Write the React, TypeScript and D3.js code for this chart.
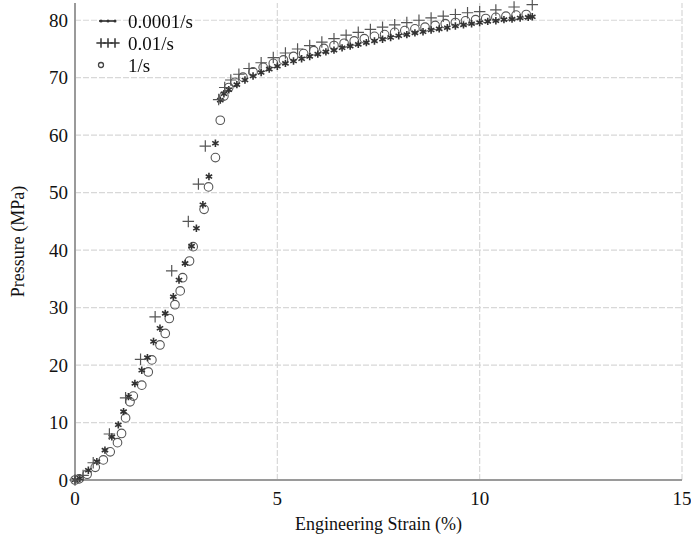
import React, { useEffect, useRef } from 'react';
import * as d3 from 'd3';

// strain (%) / pressure (MPa)
const slowStrain = [0, 0.12, 0.33, 0.54, 0.74, 0.91, 1.07, 1.2, 1.32, 1.48, 1.65, 1.79, 1.94, 2.1, 2.23, 2.43, 2.57, 2.72, 2.88, 3.0, 3.16, 3.31, 3.47, 3.59, 3.68,
  3.8, 4.0, 4.2, 4.4, 4.6, 4.8, 5.0, 5.2, 5.4, 5.6, 5.8, 6.0, 6.2, 6.4, 6.6, 6.8, 7.0, 7.2, 7.4, 7.6, 7.8, 8.0, 8.2, 8.4, 8.6, 8.8, 9.0, 9.2, 9.4, 9.6, 9.8, 10.0, 10.2, 10.4, 10.6, 10.8, 11.0, 11.2, 11.3];
const slowPressure = [0, 0.3, 1.7, 3.2, 5.2, 7.5, 9.6, 11.9, 14.5, 16.8, 19.1, 21.3, 24.1, 26.4, 29.0, 31.9, 34.8, 37.7, 40.7, 43.8, 47.9, 52.8, 58.6, 66.1, 67.2,
  67.9, 68.8, 69.6, 70.3, 70.9, 71.5, 72.0, 72.5, 72.9, 73.3, 73.7, 74.1, 74.5, 74.8, 75.2, 75.5, 75.8, 76.1, 76.4, 76.7, 77.0, 77.3, 77.5, 77.8, 78.0, 78.3, 78.5, 78.7, 79.0, 79.2, 79.4, 79.6, 79.8, 79.9, 80.1, 80.2, 80.4, 80.5, 80.6];

const midStrain = [0, 0.2, 0.45, 0.85, 1.25, 1.62, 1.98, 2.39, 2.8, 3.05, 3.22, 3.55, 3.7, 3.85, 4.05, 4.3, 4.6, 4.9, 5.2, 5.5, 5.8, 6.1, 6.4, 6.7, 7.0, 7.3, 7.6, 7.9, 8.2, 8.5, 8.8, 9.1, 9.4, 9.7, 10.0, 10.4, 10.85, 11.3];
const midPressure = [0, 0.8, 3.0, 8.0, 14.3, 21.0, 28.4, 36.4, 45.0, 51.5, 58.1, 66.2, 68.3, 69.6, 70.6, 71.6, 72.6, 73.5, 74.3, 75.0, 75.6, 76.2, 76.8, 77.4, 77.9, 78.4, 78.8, 79.2, 79.6, 80.0, 80.4, 80.7, 81.0, 81.3, 81.5, 81.8, 82.3, 82.7];

const fastStrain = [0, 0.1, 0.3, 0.5, 0.7, 0.87, 1.05, 1.15, 1.25, 1.36, 1.44, 1.65, 1.81, 1.9, 2.1, 2.23, 2.33, 2.47, 2.6, 2.66, 2.83, 2.92, 3.19, 3.3, 3.47, 3.59,
  3.68, 3.8, 3.95, 4.15, 4.4, 4.65, 4.9, 5.15, 5.4, 5.65, 5.9, 6.15, 6.4, 6.65, 6.9, 7.15, 7.4, 7.65, 7.9, 8.15, 8.4, 8.65, 8.9, 9.15, 9.4, 9.65, 9.9, 10.15, 10.4, 10.65, 10.9, 11.15];
const fastPressure = [0, 0.2, 1.0, 2.2, 3.5, 4.9, 6.5, 8.1, 10.8, 13.6, 14.6, 16.5, 18.8, 20.9, 23.5, 25.5, 28.1, 30.5, 32.9, 35.2, 38.1, 40.6, 47.1, 51.0, 56.1, 62.6,
  66.8, 68.3, 69.2, 70.1, 71.0, 71.8, 72.5, 73.1, 73.7, 74.2, 74.7, 75.1, 75.6, 76.0, 76.4, 76.8, 77.2, 77.5, 77.9, 78.2, 78.5, 78.8, 79.1, 79.4, 79.6, 79.9, 80.1, 80.3, 80.5, 80.7, 80.9, 81.0];

const seriesNames = ['0.0001/s', '0.01/s', '1/s'];
const xTicks = [0, 5, 10, 15];
const yTicks = [0, 10, 20, 30, 40, 50, 60, 70, 80];

export default function App() {
  const svgRef = useRef<SVGSVGElement>(null);

  useEffect(() => {
    document.body.style.margin = '0';
    if (!svgRef.current) return;
    d3.select(svgRef.current).selectAll('*').remove();

    const width = 691;
    const height = 541;
    const margin = { top: 3, right: 9, bottom: 61, left: 75 };
    const font = '"Liberation Serif", "DejaVu Serif", serif';

    const svg = d3.select(svgRef.current)
      .attr('width', width)
      .attr('height', height)
      .style('background', '#fff');

    const x = d3.scaleLinear().domain([0, 15]).range([margin.left, width - margin.right]);
    const y = d3.scaleLinear().domain([0, 83]).range([height - margin.bottom, margin.top]);

    // 격자
    const grid = svg.append('g');
    grid.selectAll('line.h')
      .data(yTicks.filter(d => d > 0))
      .enter()
      .append('line')
      .attr('x1', x(0)).attr('x2', x(15))
      .attr('y1', d => y(d)).attr('y2', d => y(d))
      .attr('stroke', '#d8d8d8')
      .attr('stroke-width', 1.2)
      .attr('stroke-dasharray', '6,2');
    grid.selectAll('line.v')
      .data(xTicks.filter(d => d > 0))
      .enter()
      .append('line')
      .attr('x1', d => x(d)).attr('x2', d => x(d))
      .attr('y1', y(0)).attr('y2', y(83))
      .attr('stroke', '#d8d8d8')
      .attr('stroke-width', 1.2)
      .attr('stroke-dasharray', '6,2');

    // 축
    svg.append('line')
      .attr('x1', x(0)).attr('x2', x(15))
      .attr('y1', y(0)).attr('y2', y(0))
      .attr('stroke', '#9a9a9a').attr('stroke-width', 2);
    svg.append('line')
      .attr('x1', x(0)).attr('x2', x(0))
      .attr('y1', y(0)).attr('y2', y(83))
      .attr('stroke', '#9a9a9a').attr('stroke-width', 2);

    svg.selectAll('text.xt')
      .data(xTicks)
      .enter()
      .append('text')
      .attr('x', d => x(d))
      .attr('y', y(0) + 25)
      .attr('text-anchor', 'middle')
      .attr('font-family', font)
      .attr('font-size', '19px')
      .attr('fill', '#111')
      .text(d => d);

    svg.selectAll('text.yt')
      .data(yTicks)
      .enter()
      .append('text')
      .attr('x', x(0) - 7)
      .attr('y', d => y(d))
      .attr('dy', '0.35em')
      .attr('text-anchor', 'end')
      .attr('font-family', font)
      .attr('font-size', '19px')
      .attr('fill', '#111')
      .text(d => d);

    svg.append('text')
      .attr('x', (x(0) + x(15)) / 2)
      .attr('y', 530)
      .attr('text-anchor', 'middle')
      .attr('font-family', font)
      .attr('font-size', '18px')
      .attr('fill', '#111')
      .text('Engineering Strain (%)');

    svg.append('text')
      .attr('transform', `translate(24,${y(41.5)}) rotate(-90)`)
      .attr('text-anchor', 'middle')
      .attr('font-family', font)
      .attr('font-size', '18px')
      .attr('fill', '#111')
      .text('Pressure (MPa)');

    // 마커
    const blur = svg.append('defs').append('filter').attr('id', 'soft');
    blur.append('feGaussianBlur').attr('stdDeviation', 0.45);

    const marks = svg.append('g').attr('filter', 'url(#soft)');
    const plus = d3.symbol().type(d3.symbolPlus).size(45);
    const star = d3.symbol().type(d3.symbolAsterisk).size(38);

    const fastPts = fastStrain.map((s, i) => [s, fastPressure[i]]);
    marks.selectAll('circle.fast')
      .data(fastPts)
      .enter()
      .append('circle')
      .attr('cx', d => x(d[0]))
      .attr('cy', d => y(d[1]))
      .attr('r', 4.3)
      .attr('fill', 'none')
      .attr('stroke', '#555')
      .attr('stroke-width', 1.1);

    const slowPts = slowStrain.map((s, i) => [s, slowPressure[i]]);
    marks.selectAll('path.slow')
      .data(slowPts)
      .enter()
      .append('path')
      .attr('transform', d => `translate(${x(d[0])},${y(d[1])})`)
      .attr('d', star()!)
      .attr('fill', 'none')
      .attr('stroke', '#333')
      .attr('stroke-width', 1.6);

    const midPts = midStrain.map((s, i) => [s, midPressure[i]]);
    marks.selectAll('path.mid')
      .data(midPts)
      .enter()
      .append('path')
      .attr('transform', d => `translate(${x(d[0])},${y(d[1])})`)
      .attr('d', plus()!)
      .attr('fill', 'none')
      .attr('stroke', '#555')
      .attr('stroke-width', 1.2);

    // 범례
    const legend = svg.append('g').attr('filter', 'url(#soft)');
    const rowY = [21, 43, 65];
    seriesNames.forEach((name, i) => {
      const g = legend.append('g').attr('transform', `translate(0,${rowY[i]})`);
      if (i === 0) {
        g.append('line').attr('x1', 99).attr('x2', 116).attr('y1', 0).attr('y2', 0)
          .attr('stroke', '#555').attr('stroke-width', 2);
        [101, 108, 115].forEach(px => g.append('circle').attr('cx', px).attr('cy', 0).attr('r', 1.5).attr('fill', '#333'));
      } else if (i === 1) {
        [101, 108, 115].forEach(px => g.append('path')
          .attr('transform', `translate(${px},0)`)
          .attr('d', d3.symbol().type(d3.symbolPlus).size(30)()!)
          .attr('fill', 'none').attr('stroke', '#333').attr('stroke-width', 1.5));
      } else {
        g.append('circle').attr('cx', 101).attr('cy', 0).attr('r', 2.5)
          .attr('fill', 'none').attr('stroke', '#444').attr('stroke-width', 1.3);
      }
      g.append('text')
        .attr('x', 128)
        .attr('y', 0)
        .attr('dy', '0.35em')
        .attr('font-family', font)
        .attr('font-size', '19px')
        .attr('fill', '#111')
        .style('filter', 'none')
        .text(name);
    });
  }, []);

  return (
    <div>
      <svg ref={svgRef}></svg>
    </div>
  );
}
